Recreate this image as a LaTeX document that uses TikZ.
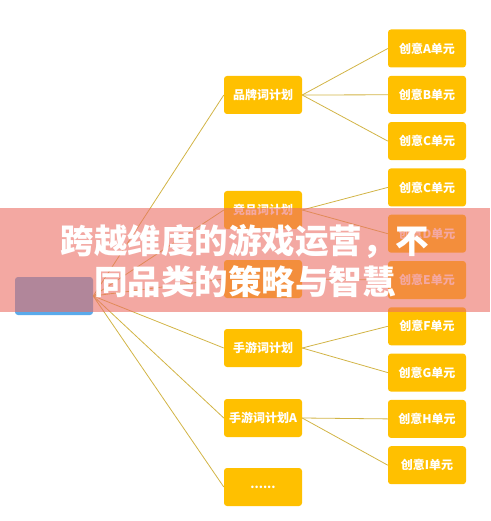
\documentclass[tikz,border=0pt]{standalone}
\usepackage{fontspec}
\setmainfont{Noto Sans CJK SC}

\definecolor{boxyellow}{RGB}{255,192,0}
\definecolor{linegold}{RGB}{210,180,70}
\definecolor{rootblue}{RGB}{90,170,235}
\definecolor{bandred}{RGB}{235,110,100}

\tikzset{
  plan/.style={fill=boxyellow, rounded corners=3pt, minimum width=78pt,
    minimum height=38pt, inner sep=0pt, text=white,
    font=\fontsize{12}{14}\selectfont\bfseries},
  unit/.style={plan},
  rootbox/.style={plan, fill=rootblue},
  link/.style={linegold, line width=0.8pt},
  headline/.style={text=white, font=\fontsize{33.5}{40}\selectfont\bfseries}
}

\begin{document}
\begin{tikzpicture}[x=1pt,y=-1pt]

\useasboundingbox (0,0) rectangle (490,521);

% корень
\node[rootbox] (root) at (54,296) {};

% планы
\foreach \n/\y/\t in {brand/95/品牌词计划, rival/210/竞品词计划, mid3/279/{},
    mobile/348/手游词计划, mobileA/418/手游词计划A, more/487/{......}}
  \node[plan] (\n) at (263,\y) {\t};

% единицы
\foreach \l [count=\i] in {A,B,C,C,D,E,F,G,H,I}
  \node[unit] (u\i) at (427,2.2+46.3*\i) {创意{\l}单元};

% связи
\foreach \m in {brand,rival,mid3,mobile,mobileA,more}
  \draw[link] (root.east) -- (\m.west);

\foreach \m/\u in {brand/1,brand/2,brand/3,rival/4,rival/5,mid3/6,
    mobile/7,mobile/8,mobileA/9,mobileA/10}
  \draw[link] (\m.east) -- (u\u.west);

% полоса с заголовком
\fill[bandred, opacity=0.6] (0,208) rectangle (490,312);
\node[headline] (title1) at (245,242) {跨越维度的游戏运营，不};
\node[headline] (title2) at (245,282) {同品类的策略与智慧};

\end{tikzpicture}
\end{document}
